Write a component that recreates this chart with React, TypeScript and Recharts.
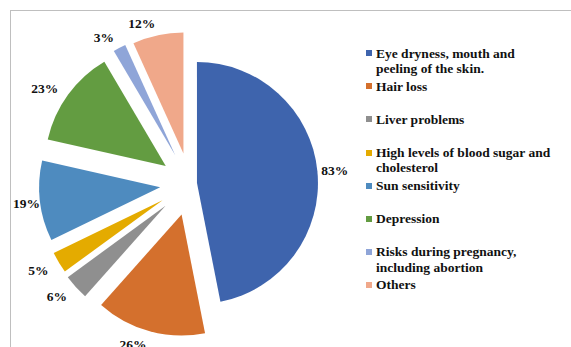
import React from 'react';
import { PieChart, Pie, Cell, Sector, Legend } from 'recharts';

// Side effects reported, in legend order
const categories = [
  'Eye dryness, mouth and peeling of the skin.',
  'Hair loss',
  'Liver problems',
  'High levels of blood sugar and cholesterol',
  'Sun sensitivity',
  'Depression',
  'Risks during pregnancy, including abortion',
  'Others',
];

// Share of respondents reporting each effect (%)
const percentages = [83, 26, 6, 5, 19, 23, 3, 12];

const COLORS = ['#3E64AD', '#D4702D', '#8F8F8F', '#E4AB00', '#4E8BBF', '#639C41', '#8FA5D8', '#F0A88A'];
// How far each slice is pulled out from the pie centre (px)
const EXPLODE = [7, 32, 33, 32, 30, 30, 32, 31];

const FONT = '"Liberation Serif", "Times New Roman", serif';
const FONT_SIZE = 13.5;
// Labels are kept inside the framed chart area
const LABEL_MIN_LEFT = 13;

const data = categories.map((name, i) => ({ name, value: percentages[i] }));

const RAD = Math.PI / 180;

const sliceIndex = (p: any): number => {
  if (typeof p.index === 'number') return p.index;
  const name = p.name ?? p.payload?.name;
  return Math.max(0, categories.indexOf(name));
};

const ExplodedSector = (props: any) => {
  const i = sliceIndex(props);
  const off = EXPLODE[i] ?? 0;
  const a = -props.midAngle * RAD;
  return (
    <Sector
      {...props}
      cx={props.cx + off * Math.cos(a)}
      cy={props.cy + off * Math.sin(a)}
      fill={COLORS[i]}
      stroke="none"
    />
  );
};

const renderLabel = (props: any) => {
  const { cx, cy, midAngle, outerRadius, value } = props;
  const i = sliceIndex(props);
  const off = EXPLODE[i] ?? 0;
  const a = -midAngle * RAD;
  const ux = Math.cos(a);
  const uy = Math.sin(a);
  // point on the outer arc of the pulled-out slice, along its bisector
  const px = cx + (off + outerRadius) * ux;
  const py = cy + (off + outerRadius) * uy;
  const text = `${value}%`;
  const w = (text.length - 1) * 0.5 * FONT_SIZE + FONT_SIZE;
  const gap = ux < 0 ? 12 : 4;
  let x = px + gap * ux + Math.sign(ux) * (w / 2);
  x = Math.max(x, LABEL_MIN_LEFT + w / 2);
  const y = py + 13 * uy + 1;
  return (
    <text
      key={`lbl-${i}`}
      x={x}
      y={y}
      textAnchor="middle"
      dominantBaseline="central"
      fontFamily={FONT}
      fontWeight="bold"
      fontSize={FONT_SIZE}
      fill="#111"
    >
      {text}
    </text>
  );
};

const LEGEND_TOP = 53.3;
const LEGEND_STEP = 33.1;
const LINE_H = 15.3;

const LegendBox = () => (
  <div style={{ position: 'relative', width: 571, height: 347 }}>
    {categories.map((name, i) => {
      const top = LEGEND_TOP + i * LEGEND_STEP - LINE_H / 2;
      return (
        <div key={name} style={{ position: 'absolute', left: 366, top, width: 200 }}>
          <span
            style={{
              position: 'absolute',
              left: 0,
              top: LINE_H / 2 - 3,
              width: 6,
              height: 6,
              background: COLORS[i],
            }}
          />
          <div
            style={{
              position: 'absolute',
              left: 10,
              top: 0,
              width: 180,
              fontFamily: FONT,
              fontWeight: 'bold',
              fontSize: FONT_SIZE,
              lineHeight: `${LINE_H}px`,
              color: '#111',
              textAlign: 'left',
            }}
          >
            {name}
          </div>
        </div>
      );
    })}
  </div>
);

export default function App() {
  return (
    <div style={{ position: 'absolute', left: 0, top: 0, width: 571, height: 347, background: '#fff', overflow: 'hidden' }}>
      <div
        style={{
          position: 'absolute',
          left: 10,
          top: 10,
          width: 600,
          height: 400,
          borderTop: '1px solid #BFBFBF',
          borderLeft: '1px solid #BFBFBF',
        }}
      />
      <PieChart width={571} height={347} margin={{ top: 0, right: 0, bottom: 0, left: 0 }} style={{ position: 'absolute', left: 0, top: 0 }}>
        <Pie
          data={data}
          dataKey="value"
          nameKey="name"
          cx={190}
          cy={183.7}
          outerRadius={121}
          startAngle={90}
          endAngle={-270}
          stroke="none"
          isAnimationActive={false}
          shape={ExplodedSector}
          label={renderLabel}
          labelLine={false}
        >
          {data.map((d, i) => (
            <Cell key={d.name} fill={COLORS[i]} />
          ))}
        </Pie>
        <Legend
          content={<LegendBox />}
          wrapperStyle={{ position: 'absolute', left: 0, top: 0, width: 571, height: 347 }}
        />
      </PieChart>
    </div>
  );
}
